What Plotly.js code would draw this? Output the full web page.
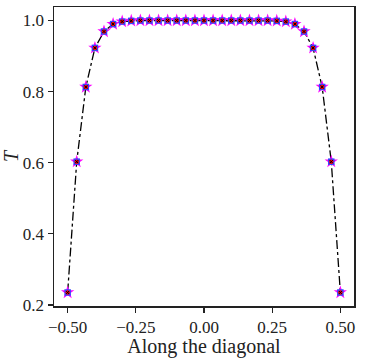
<!DOCTYPE html>
<html>
<head>
<meta charset="utf-8">
<script src="https://cdn.plot.ly/plotly-3.0.1.min.js"></script>
<style>
  html, body { margin: 0; padding: 0; background: #fff; }
  #chart { width: 365px; height: 358px; }
</style>
</head>
<body>
<div id="chart"></div>
<script>
// positions along the diagonal (31 samples)
var pos = [-0.5, -0.4667, -0.4333, -0.4, -0.3667, -0.3333, -0.3, -0.2667, -0.2333, -0.2, -0.1667,
           -0.1333, -0.1, -0.0667, -0.0333, 0.0, 0.0333, 0.0667, 0.1, 0.1333, 0.1667,
           0.2, 0.2333, 0.2667, 0.3, 0.3333, 0.3667, 0.4, 0.4333, 0.4667, 0.5];

var T = [0.235, 0.603, 0.813, 0.923, 0.969, 0.990, 0.997, 0.999, 1.0, 1.0, 1.0,
         1.0, 1.0, 1.0, 1.0, 1.0, 1.0, 1.0, 1.0, 1.0, 1.0,
         1.0, 1.0, 0.999, 0.997, 0.990, 0.969, 0.923, 0.813, 0.603, 0.235];

var xTicks = [-0.5, -0.25, 0, 0.25, 0.5];
var xTickText = ['\u22120.50', '\u22120.25', '0.00', '0.25', '0.50'];
var yTicks = [0.2, 0.4, 0.6, 0.8, 1.0];

var font = 'Liberation Serif, DejaVu Serif, serif';

var data = [
    {
        x: pos, y: T, type: 'scatter', mode: 'lines',
        line: { color: 'black', width: 1.3, dash: 'dashdot' },
        hoverinfo: 'skip'
    },
    {
        x: pos, y: T, type: 'scatter', mode: 'markers',
        marker: { symbol: 'star', size: 10, color: '#ff00ff' }
    },
    {
        x: pos, y: T, type: 'scatter', mode: 'markers',
        marker: { symbol: 'square', size: 6.5, color: '#3344ff' }
    },
    {
        x: pos, y: T, type: 'scatter', mode: 'markers',
        marker: { symbol: 'circle', size: 4.5, color: '#ff0000' }
    },
    {
        x: pos, y: T, type: 'scatter', mode: 'markers',
        marker: { symbol: 'x-thin', size: 3, line: { color: 'black', width: 1 } }
    }
];

var layout = {
    width: 365,
    height: 358,
    margin: { l: 54, r: 11, t: 7, b: 52 },
    showlegend: false,
    paper_bgcolor: 'white',
    plot_bgcolor: 'white',
    font: { family: font, size: 17, color: '#222' },
    xaxis: {
        range: [-0.55, 0.55],
        tickvals: xTicks,
        ticktext: xTickText,
        ticks: 'outside', ticklen: 5, tickwidth: 1.2, tickcolor: '#222',
        showgrid: false, zeroline: false,
        showline: true, mirror: true, linecolor: '#222', linewidth: 1.5,
        title: { text: 'Along the diagonal', font: { family: font, size: 20 }, standoff: 3 }
    },
    yaxis: {
        range: [0.197, 1.038],
        tickvals: yTicks,
        ticktext: ['0.2', '0.4', '0.6', '0.8', '1.0'],
        ticks: 'outside', ticklen: 5, tickwidth: 1.2, tickcolor: '#222',
        showgrid: false, zeroline: false,
        showline: true, mirror: true, linecolor: '#222', linewidth: 1.5,
        title: { text: '<i>T</i>', font: { family: font, size: 20 }, standoff: 6 }
    }
};

Plotly.newPlot('chart', data, layout, { staticPlot: true });
</script>
</body>
</html>
